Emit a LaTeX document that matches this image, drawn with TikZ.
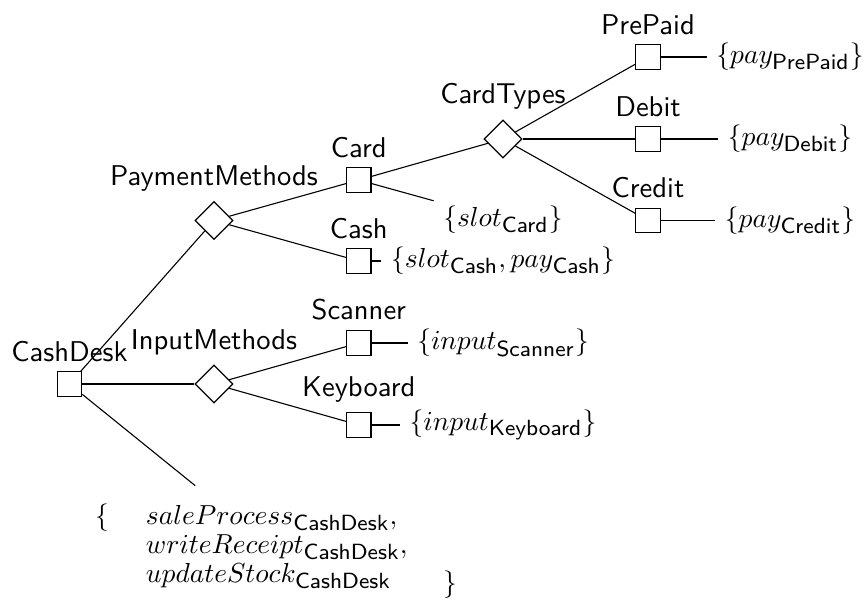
\documentclass[tikz,border=0pt]{standalone}
\usepackage{amsmath}
\usetikzlibrary{shapes.geometric}
% sans-serif subscript names, set at 8pt
\newcommand\fname[1]{\mbox{\fontsize{8}{9}\selectfont\sffamily #1}}
\begin{document}
\begin{tikzpicture}[x=0.3636pt,y=-0.3636pt,
  feat/.style={draw, rectangle, minimum size=8.9pt, inner sep=0pt, fill=white},
  grp/.style={draw, diamond, aspect=1, minimum size=13.8pt, inner sep=0pt, fill=white},
  ops/.style={inner sep=3.333pt},
  every label/.style={font=\fontsize{10.4}{12.5}\selectfont\sffamily},
  link/.style={line width=0.4pt}]
\useasboundingbox (0,0) rectangle (866,601);

% feature nodes
\node[feat, label=above:CashDesk]       (cashdesk) at (69.5,384) {};
\node[grp,  label=above:PaymentMethods] (paym)     at (214,220.5) {};
\node[grp,  label=above:InputMethods]   (inpm)     at (214,384) {};
\node[feat, label=above:Card]           (card)     at (358.8,180) {};
\node[feat, label=above:Cash]           (cash)     at (358.8,261) {};
\node[feat, label=above:Scanner]        (scanner)  at (358.8,343) {};
\node[feat, label=above:Keyboard]       (keyboard) at (358.8,425) {};
\node[grp,  label=above:CardTypes]      (cardtypes) at (503,139) {};
\node[feat, label=above:PrePaid]        (prepaid)  at (648,57) {};
\node[feat, label=above:Debit]          (debit)    at (648,139) {};
\node[feat, label=above:Credit]         (credit)   at (648,220.5) {};

% operation sets
\node[ops] (opPrePaid) at (790,57)    {$\{pay_{\fname{PrePaid}}\}$};
\node[ops] (opDebit)   at (790,139)   {$\{pay_{\fname{Debit}}\}$};
\node[ops] (opCredit)  at (790,220.5) {$\{pay_{\fname{Credit}}\}$};
\node[ops] (opCard)    at (503,220)   {$\{slot_{\fname{Card}}\}$};
\node[ops] (opCash)    at (503,261)   {$\{slot_{\fname{Cash}}, pay_{\fname{Cash}}\}$};
\node[ops] (opScanner) at (503,343)   {$\{input_{\fname{Scanner}}\}$};
\node[ops] (opKeyboard) at (503,425)  {$\{input_{\fname{Keyboard}}\}$};
\node[ops, inner ysep=6.5pt] (opDesk) at (276,551) {$\renewcommand\arraystretch{0.88}%
  \begin{array}{@{}l@{\hspace{13.5pt}}l@{\hspace{13pt}}l@{}}
  \{ & saleProcess_{\fname{CashDesk}}, & \\
     & writeReceipt_{\fname{CashDesk}}, & \\
     & updateStock_{\fname{CashDesk}} & \raisebox{-3pt}{$\}$}
  \end{array}$};

% connectors
\begin{scope}[link]
\draw (cashdesk) -- (paym);
\draw (cashdesk) -- (inpm);
\draw (cashdesk) -- (opDesk);
\draw (paym) -- (card);
\draw (paym) -- (cash);
\draw (inpm) -- (scanner);
\draw (inpm) -- (keyboard);
\draw (card) -- (cardtypes);
\draw (card) -- (opCard);
\draw (cash) -- (opCash);
\draw (scanner) -- (opScanner);
\draw (keyboard) -- (opKeyboard);
\draw (cardtypes) -- (prepaid);
\draw (cardtypes) -- (debit);
\draw (cardtypes) -- (credit);
\draw (prepaid) -- (opPrePaid);
\draw (debit) -- (opDebit);
\draw (credit) -- (opCredit);
\end{scope}
\end{tikzpicture}
\end{document}
